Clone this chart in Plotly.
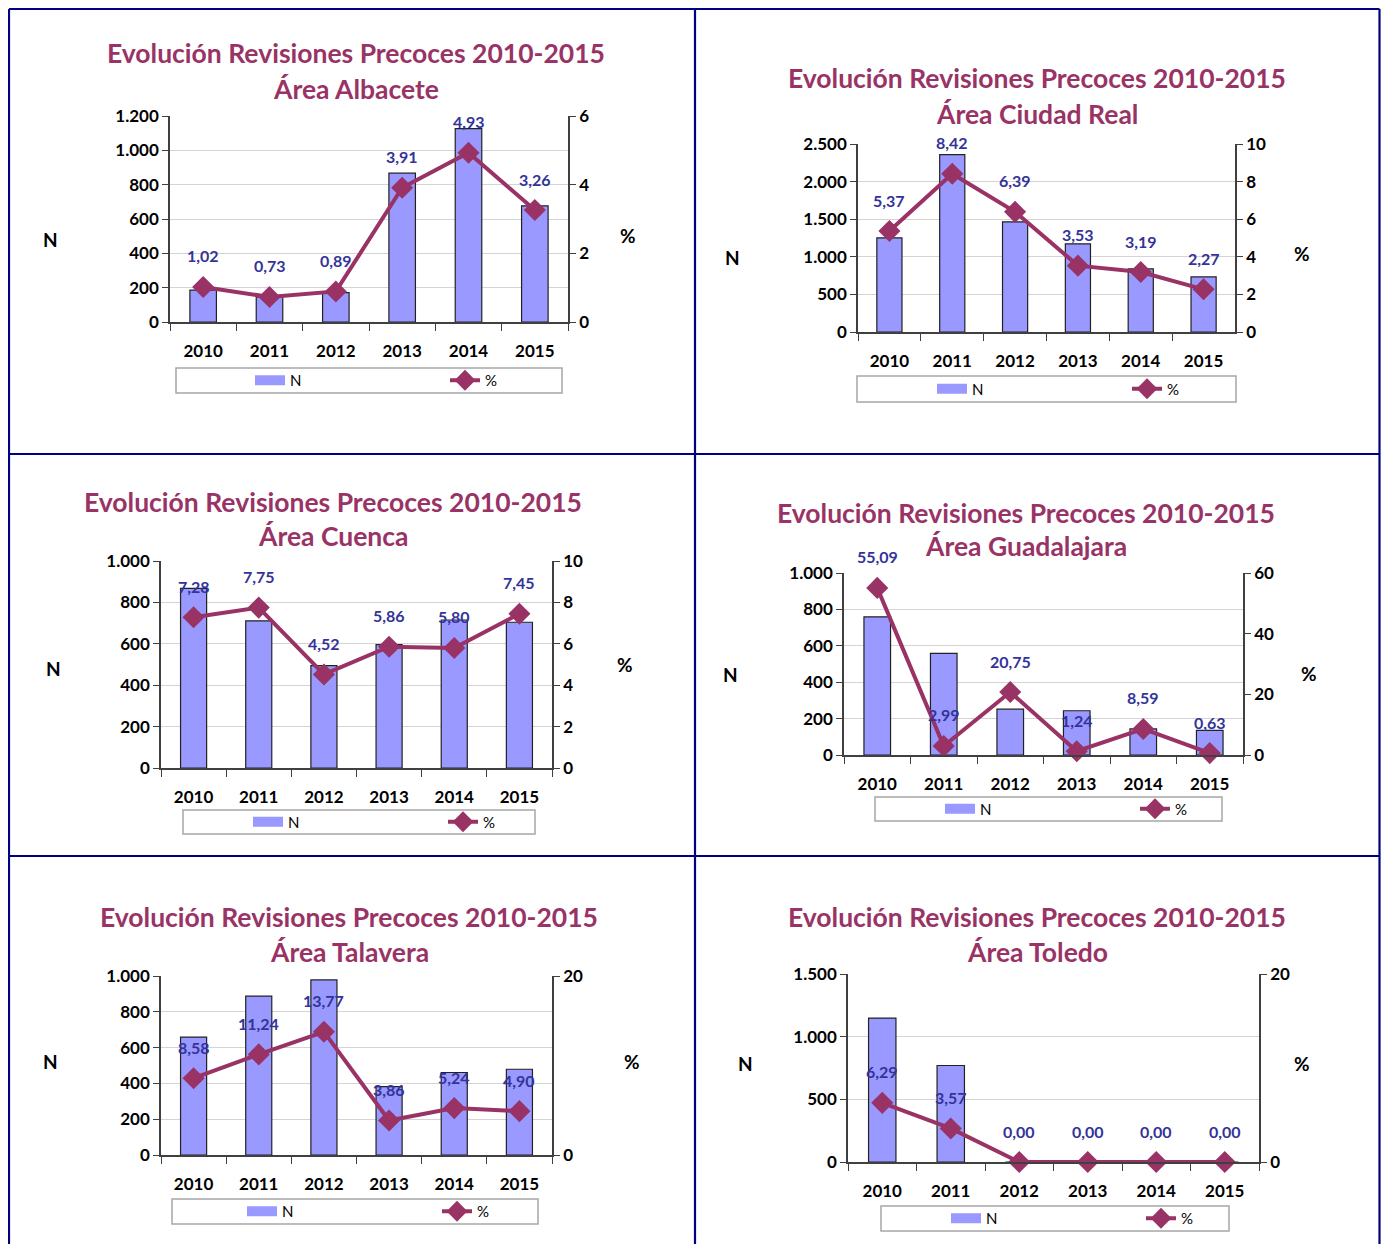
import plotly.graph_objects as go

years = ["2010", "2011", "2012", "2013", "2014", "2015"]

n_albacete = [186, 146, 171, 867, 1126, 677]
pct_albacete = [1.02, 0.73, 0.89, 3.91, 4.93, 3.26]

n_ciudad_real = [1252, 2358, 1465, 1172, 839, 733]
pct_ciudad_real = [5.37, 8.42, 6.39, 3.53, 3.19, 2.27]

n_cuenca = [868, 711, 495, 596, 715, 704]
pct_cuenca = [7.28, 7.75, 4.52, 5.86, 5.80, 7.45]

n_guadalajara = [759, 558, 252, 243, 143, 135]
pct_guadalajara = [55.09, 2.99, 20.75, 1.24, 8.59, 0.63]

n_talavera = [659, 888, 978, 382, 461, 479]
pct_talavera = [8.58, 11.24, 13.77, 3.86, 5.24, 4.90]

n_toledo = [1148, 770, 0, 0, 0, 0]
pct_toledo = [6.29, 3.57, 0.00, 0.00, 0.00, 0.00]

# page is drawn with an 8px body margin, so the figure is shifted by that much
# and made small enough that the page needs no scrollbars
OFF = 8
W, H = 1389 - 2 * OFF, 1252 - 2 * OFF
PLUM = "#993366"
BAR = "#9999FF"
LABEL_BLUE = "#333399"
NAVY = "#000080"
FONT = "Lato"

# plot boxes etc. in pixels of the page
panels = [
    dict(area="Albacete", n=n_albacete, pct=pct_albacete, n_max=1200, n_step=200, p_max=6, p_step=2,
         box=(170, 116, 568, 322), title=(356, 53, 89), n_lab=(41, 226), p_lab=(628, 222),
         leg_box=(176, 368, 562, 393), leg_x=250),
    dict(area="Ciudad Real", n=n_ciudad_real, pct=pct_ciudad_real, n_max=2500, n_step=500, p_max=10, p_step=2,
         box=(858, 144, 1235, 332), title=(1037, 78, 114), n_lab=(732, 244), p_lab=(1312, 240),
         leg_box=(857, 376, 1236, 402), leg_x=932),
    dict(area="Cuenca", n=n_cuenca, pct=pct_cuenca, n_max=1000, n_step=200, p_max=10, p_step=2,
         box=(161, 561, 552, 768), title=(333, 502, 536), n_lab=(44, 668), p_lab=(625, 664),
         leg_box=(183, 810, 535, 834), leg_x=248),
    dict(area="Guadalajara", n=n_guadalajara, pct=pct_guadalajara, n_max=1000, n_step=200, p_max=60, p_step=20,
         box=(844, 573, 1243, 755), title=(1026, 513, 546), n_lab=(730, 675), p_lab=(1319, 673),
         leg_box=(875, 797, 1222, 821), leg_x=940),
    dict(area="Talavera", n=n_talavera, pct=pct_talavera, n_max=1000, n_step=200, p_max=20, p_step=20,
         box=(161, 976, 552, 1155), title=(349, 917, 952), n_lab=(41, 1075), p_lab=(632, 1075),
         leg_box=(172, 1199, 538, 1224), leg_x=242),
    dict(area="Toledo", n=n_toledo, pct=pct_toledo, n_max=1500, n_step=500, p_max=20, p_step=20,
         box=(848, 974, 1259, 1162), title=(1037, 917, 952), n_lab=(745, 1077), p_lab=(1312, 1077),
         leg_box=(881, 1206, 1229, 1231), leg_x=946),
]


def fx(v):
    return (v - OFF) / W


def fy(v):
    return 1 - (v - OFF) / H


fig = go.Figure()
annotations = []
shapes = []
layout = {}

for i, p in enumerate(panels):
    xid = "x" if i == 0 else f"x{i + 1}"
    yl = "y" if i == 0 else f"y{2 * i + 1}"
    yr = f"y{2 * i + 2}"
    leg = "legend" if i == 0 else f"legend{i + 1}"
    L, T, R, B = p["box"]

    fig.add_trace(go.Bar(
        x=years, y=p["n"], xaxis=xid, yaxis=yl, name="N", width=0.4,
        marker=dict(color=BAR, line=dict(color="#222222", width=1.2)),
        showlegend=False))
    # legend-only entry so the N swatch is a wide block like the original
    fig.add_trace(go.Scatter(
        x=[None], y=[None], xaxis=xid, yaxis=yl, name="N", mode="lines",
        line=dict(color=BAR, width=10), legend=leg))
    fig.add_trace(go.Scatter(
        x=years, y=p["pct"], xaxis=xid, yaxis=yr, name="%", mode="lines+markers",
        line=dict(color=PLUM, width=4),
        marker=dict(symbol="diamond", size=17, color=PLUM),
        cliponaxis=False, legend=leg))

    axfont = dict(family=FONT, size=17, color="black", weight="bold")
    layout["xaxis" if i == 0 else f"xaxis{i + 1}"] = dict(
        domain=[fx(L), fx(R)], anchor=yl, type="category", range=[-0.5, 5.5],
        tickson="boundaries", ticks="outside", ticklen=7, tickcolor="#404040",
        showline=True, linecolor="#404040", linewidth=1.5, showgrid=False,
        tickfont=axfont, ticklabelstandoff=13, automargin=False)
    layout["yaxis" if i == 0 else f"yaxis{2 * i + 1}"] = dict(
        domain=[fy(B), fy(T)], anchor=xid, range=[0, p["n_max"]], dtick=p["n_step"],
        tickformat=",", showgrid=True, gridcolor="#D4D4D4", zeroline=False,
        showline=True, linecolor="#404040", linewidth=1.5,
        ticks="outside", ticklen=6, tickcolor="#404040", tickfont=axfont, automargin=False)
    layout[f"yaxis{2 * i + 2}"] = dict(
        overlaying=yl, anchor=xid, side="right", range=[0, p["p_max"]], dtick=p["p_step"],
        showgrid=False, zeroline=False, showline=True, linecolor="#404040", linewidth=1.5,
        ticks="outside", ticklen=6, tickcolor="#404040", tickfont=axfont, automargin=False)

    lb = p["leg_box"]
    layout[leg] = dict(
        orientation="h", x=fx(p["leg_x"]), xanchor="left", y=fy((lb[1] + lb[3]) / 2), yanchor="middle",
        entrywidth=150, entrywidthmode="pixels", bgcolor="rgba(0,0,0,0)",
        font=dict(family=FONT, size=15, color="black"), traceorder="normal")
    shapes.append(dict(type="rect", xref="paper", yref="paper",
                       x0=fx(lb[0]), x1=fx(lb[2]), y0=fy(lb[3]), y1=fy(lb[1]),
                       line=dict(color="#A6A6A6", width=1.5)))

    cx, t1, t2 = p["title"]
    tfont = dict(family=FONT, size=26.5, color=PLUM, weight="bold")
    annotations.append(dict(x=fx(cx), y=fy(t1), xref="paper", yref="paper", text="Evolución Revisiones Precoces 2010-2015",
                            showarrow=False, font=tfont, xanchor="center", yanchor="middle"))
    annotations.append(dict(x=fx(cx), y=fy(t2), xref="paper", yref="paper", text=f"Área {p['area']}",
                            showarrow=False, font=tfont, xanchor="center", yanchor="middle"))
    lfont = dict(family=FONT, size=19, color="black", weight="bold")
    annotations.append(dict(x=fx(p["n_lab"][0]), y=fy(p["n_lab"][1]), xref="paper", yref="paper", text="N",
                            showarrow=False, font=lfont))
    annotations.append(dict(x=fx(p["p_lab"][0]), y=fy(p["p_lab"][1]), xref="paper", yref="paper", text="%",
                            showarrow=False, font=lfont))

    # data labels above the % markers (category index used for x)
    for j, v in enumerate(p["pct"]):
        annotations.append(dict(
            x=j, y=v, xref=xid, yref=yr, yshift=31, showarrow=False,
            text=f"{v:.2f}".replace(".", ","),
            font=dict(family=FONT, size=16, color=LABEL_BLUE, weight="bold")))

# cell borders (outer edges sit right at the figure edge)
right_edge = OFF + W - 1.5
for xv in (OFF + 1, 695, right_edge):
    shapes.append(dict(type="line", xref="paper", yref="paper", x0=fx(xv), x1=fx(xv), y0=0, y1=fy(OFF + 1),
                       line=dict(color=NAVY, width=2.2)))
for yv in (OFF + 1, 454, 856):
    shapes.append(dict(type="line", xref="paper", yref="paper", x0=fx(OFF + 1), x1=fx(right_edge), y0=fy(yv), y1=fy(yv),
                       line=dict(color=NAVY, width=2.2)))

fig.update_layout(
    width=W, height=H, margin=dict(l=0, r=0, t=0, b=0, autoexpand=False),
    paper_bgcolor="white", plot_bgcolor="white",
    separators=",.", showlegend=True,
    font=dict(family=FONT),
    annotations=annotations, shapes=shapes,
    **layout)

fig.write_html("out.html")
